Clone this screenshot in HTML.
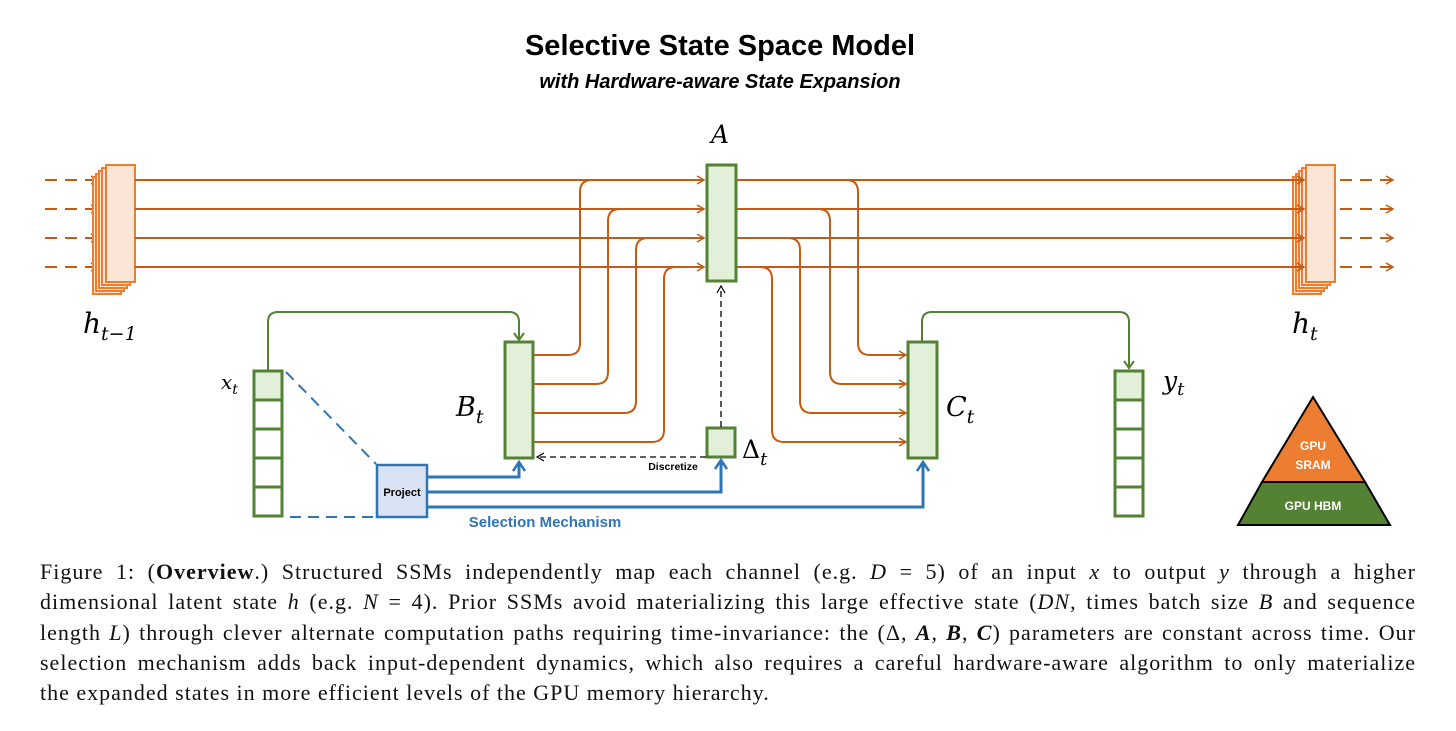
<!DOCTYPE html>
<html><head><meta charset="utf-8"><style>
body{margin:0;background:#fff;width:1456px;height:731px;overflow:hidden;position:relative}
.cap{position:absolute;left:40px;width:1376px;font-family:"Liberation Serif",serif;font-size:22px;letter-spacing:1px;color:#111;white-space:nowrap}
.j{text-align:justify;text-align-last:justify;white-space:normal;height:30px;overflow:hidden}
</style></head><body>
<svg width="1456" height="560" style="position:absolute;left:0;top:0" xmlns="http://www.w3.org/2000/svg">
<defs>
<marker id="ao" markerWidth="10" markerHeight="10" refX="8" refY="5" orient="auto" markerUnits="userSpaceOnUse"><path d="M1,1 L8,5 L1,9" fill="none" stroke="#c55a11" stroke-width="1.5"/></marker>
<marker id="ab" markerWidth="14" markerHeight="14" refX="10" refY="7" orient="auto" markerUnits="userSpaceOnUse"><path d="M1,1 L10,7 L1,13" fill="none" stroke="#2e75b6" stroke-width="2.5"/></marker>
<marker id="ak" markerWidth="10" markerHeight="10" refX="8" refY="5" orient="auto" markerUnits="userSpaceOnUse"><path d="M1,1 L8,5 L1,9" fill="none" stroke="#000" stroke-width="1.2"/></marker>
</defs>
<text x="720" y="55" text-anchor="middle" font-family="Liberation Sans,sans-serif" font-weight="bold" font-size="29">Selective State Space Model</text>
<text x="720" y="88" text-anchor="middle" font-family="Liberation Sans,sans-serif" font-weight="bold" font-style="italic" font-size="20">with Hardware-aware State Expansion</text>

<g stroke="#c55a11" stroke-width="2" fill="none">
<g stroke-dasharray="12,8">
<line x1="45" y1="180" x2="98" y2="180" marker-end="url(#ao)"/><line x1="45" y1="209" x2="98" y2="209" marker-end="url(#ao)"/>
<line x1="45" y1="238" x2="98" y2="238" marker-end="url(#ao)"/><line x1="45" y1="267" x2="98" y2="267" marker-end="url(#ao)"/>
<line x1="1340" y1="180" x2="1393" y2="180" marker-end="url(#ao)"/><line x1="1340" y1="209" x2="1393" y2="209" marker-end="url(#ao)"/>
<line x1="1340" y1="238" x2="1393" y2="238" marker-end="url(#ao)"/><line x1="1340" y1="267" x2="1393" y2="267" marker-end="url(#ao)"/>
</g>
</g>
<g stroke="#ed7d31" stroke-width="2" fill="#fbe5d6">
<rect x="93" y="177" width="28" height="117"/><rect x="96" y="174" width="28" height="117"/><rect x="99" y="171" width="28" height="117"/><rect x="102" y="168" width="28" height="117"/><rect x="106" y="165" width="29" height="117"/>
<rect x="1293" y="177" width="28" height="117"/><rect x="1296" y="174" width="28" height="117"/><rect x="1299" y="171" width="28" height="117"/><rect x="1302" y="168" width="28" height="117"/><rect x="1306" y="165" width="29" height="117"/>
</g>
<g stroke="#c55a11" stroke-width="2" fill="none">
<line x1="135" y1="180" x2="704" y2="180" marker-end="url(#ao)"/><line x1="135" y1="209" x2="704" y2="209" marker-end="url(#ao)"/>
<line x1="135" y1="238" x2="704" y2="238" marker-end="url(#ao)"/><line x1="135" y1="267" x2="704" y2="267" marker-end="url(#ao)"/>
<line x1="737" y1="180" x2="1304" y2="180" marker-end="url(#ao)"/><line x1="737" y1="209" x2="1304" y2="209" marker-end="url(#ao)"/>
<line x1="737" y1="238" x2="1304" y2="238" marker-end="url(#ao)"/><line x1="737" y1="267" x2="1304" y2="267" marker-end="url(#ao)"/>
<path d="M534,355 H568 Q580,355 580,343 V192 Q580,180 592,180 H600"/>
<path d="M534,384 H596 Q608,384 608,372 V221 Q608,209 620,209 H628"/>
<path d="M534,413 H624 Q636,413 636,401 V250 Q636,238 648,238 H656"/>
<path d="M534,442 H652 Q664,442 664,430 V279 Q664,267 676,267 H684"/>
<path d="M846,180 Q858,180 858,192 V343 Q858,355 870,355 H906" marker-end="url(#ao)"/>
<path d="M818,209 Q830,209 830,221 V372 Q830,384 842,384 H906" marker-end="url(#ao)"/>
<path d="M788,238 Q800,238 800,250 V401 Q800,413 812,413 H906" marker-end="url(#ao)"/>
<path d="M760,267 Q772,267 772,279 V430 Q772,442 784,442 H906" marker-end="url(#ao)"/>
</g>
<g stroke="#548235" stroke-width="3" fill="#e2f0d9">
<rect x="707" y="165" width="29" height="116"/>
<rect x="505" y="342" width="28" height="116"/>
<rect x="908" y="342" width="29" height="116"/>
<rect x="707" y="428" width="28" height="29"/>
<rect x="254" y="371" width="28" height="29"/>
<rect x="1115" y="371" width="28" height="29"/>
</g>
<g stroke="#548235" stroke-width="3" fill="#fff">
<rect x="254" y="400" width="28" height="29"/><rect x="254" y="429" width="28" height="29"/><rect x="254" y="458" width="28" height="29"/><rect x="254" y="487" width="28" height="29"/>
<rect x="1115" y="400" width="28" height="29"/><rect x="1115" y="429" width="28" height="29"/><rect x="1115" y="458" width="28" height="29"/><rect x="1115" y="487" width="28" height="29"/>
</g>
<g stroke="#548235" stroke-width="2" fill="none">
<path d="M268,370 V322 Q268,312 278,312 H509 Q519,312 519,322 V339"/><path d="M514,333 L519,340 L524,333"/>
<path d="M922,341 V322 Q922,312 932,312 H1119 Q1129,312 1129,322 V368"/><path d="M1124,361 L1129,368 L1134,361"/>
</g>
<g stroke="#000" stroke-width="1.3" fill="none" stroke-dasharray="6,4">
<line x1="721" y1="427" x2="721" y2="286" marker-end="url(#ak)"/>
<line x1="706" y1="457" x2="537" y2="457" marker-end="url(#ak)"/>
</g>
<text x="673" y="470" text-anchor="middle" font-family="Liberation Sans,sans-serif" font-weight="bold" font-size="10.5">Discretize</text>
<g stroke="#2e75b6" stroke-width="2" stroke-dasharray="11,7" fill="none">
<line x1="286" y1="372" x2="376" y2="464"/><line x1="290" y1="517" x2="376" y2="517"/>
</g>
<g stroke="#2e75b6" stroke-width="3" fill="none">
<path d="M428,477 H519 V462" marker-end="url(#ab)"/>
<path d="M428,492 H721 V460" marker-end="url(#ab)"/>
<path d="M428,507 H923 V462" marker-end="url(#ab)"/>
</g>
<rect x="377" y="465" width="50" height="52" fill="#dae3f3" stroke="#2e75b6" stroke-width="2.5"/>
<text x="402" y="496" text-anchor="middle" font-family="Liberation Sans,sans-serif" font-weight="bold" font-size="11">Project</text>
<text x="545" y="527" text-anchor="middle" font-family="Liberation Sans,sans-serif" font-weight="bold" font-size="15" fill="#2e75b6">Selection Mechanism</text>
<polygon points="1313,397 1365,482 1262,482" fill="#ed7d31" stroke="#000" stroke-width="2"/>
<polygon points="1262,482 1365,482 1390,525 1238,525" fill="#548235" stroke="#000" stroke-width="2"/>
<g font-family="Liberation Sans,sans-serif" font-weight="bold" fill="#fff" font-size="12" text-anchor="middle">
<text x="1313" y="450">GPU</text><text x="1313" y="469">SRAM</text><text x="1313" y="510">GPU HBM</text></g>
<g font-family="DejaVu Serif,serif" font-style="italic" fill="#000">
<text x="711" y="143" font-size="25">A</text>
<text x="83" y="333" font-size="28">h<tspan font-size="19" dy="7">t−1</tspan></text>
<text x="221" y="389" font-size="20">x<tspan font-size="14" dy="5">t</tspan></text>
<text x="456" y="416" font-size="27">B<tspan font-size="19" dy="7">t</tspan></text>
<text x="742" y="458" font-size="25" font-style="normal">Δ<tspan font-style="italic" font-size="18" dy="7">t</tspan></text>
<text x="946" y="416" font-size="27">C<tspan font-size="19" dy="7">t</tspan></text>
<text x="1163" y="389" font-size="25">y<tspan font-size="18" dy="6">t</tspan></text>
<text x="1292" y="333" font-size="28">h<tspan font-size="19" dy="7">t</tspan></text>
</g>
</svg>
<div class="cap j" style="top:559px">Figure 1: (<b>Overview</b>.) Structured SSMs independently map each channel (e.g. <i>D</i> = 5) of an input <i>x</i> to output <i>y</i> through a higher</div>
<div class="cap j" style="top:589px">dimensional latent state <i>h</i> (e.g. <i>N</i> = 4). Prior SSMs avoid materializing this large effective state (<i>DN</i>, times batch size <i>B</i> and sequence</div>
<div class="cap j" style="top:620px">length <i>L</i>) through clever alternate computation paths requiring time-invariance: the (Δ, <b><i>A</i></b>, <b><i>B</i></b>, <b><i>C</i></b>) parameters are constant across time. Our</div>
<div class="cap j" style="top:650px">selection mechanism adds back input-dependent dynamics, which also requires a careful hardware-aware algorithm to only materialize</div>
<div class="cap" style="top:680px">the expanded states in more efficient levels of the GPU memory hierarchy.</div>
</body></html>
